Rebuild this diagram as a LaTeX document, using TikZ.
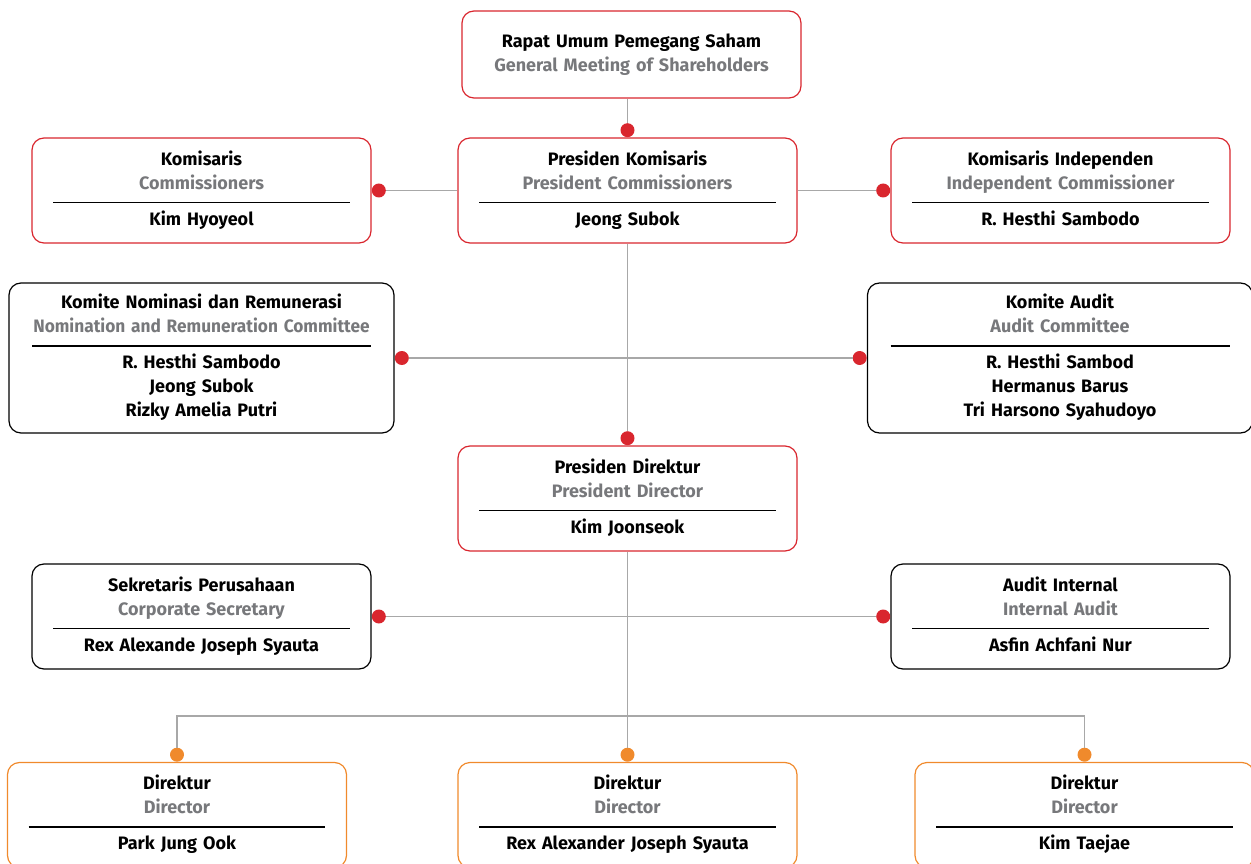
\documentclass[tikz,border=0pt]{standalone}
\usepackage{fontspec}
\setmainfont{Fira Sans}
\usepackage{tikz}
\usetikzlibrary{positioning}

\definecolor{boardred}{HTML}{D9262E}
\definecolor{dirorange}{HTML}{F08A2C}
\definecolor{linkgray}{HTML}{A8A8A8}
\definecolor{engray}{HTML}{77787B}

\newcommand{\en}[1]{\textcolor{engray}{#1}}
\newcommand{\seprule}[1]{\\[-10pt]\rule{#1}{1.5pt}\\[-2pt]}

\begin{document}
\begin{tikzpicture}[x=1pt,y=-1pt,
	orgbox/.style={draw=#1, line width=1.2pt, rounded corners=12pt, align=center,
		text width=297pt, inner xsep=21pt, minimum height=105pt,
		font=\fontsize{18}{24}\selectfont\bfseries},
	widebox/.style={orgbox=#1, text width=343pt, minimum height=150pt},
	dot/.style={circle, fill=#1, inner sep=0pt, minimum size=14pt},
	link/.style={draw=linkgray, line width=1.2pt}]
	\useasboundingbox (0,0) rectangle (1251,864);

	% boards
	\node[orgbox=boardred, minimum height=87pt] (rups) at (631.5,54.5)
		{\strut Rapat Umum Pemegang Saham\\ \en{General Meeting of Shareholders}\strut};
	\node[orgbox=boardred] (preskom) at (627.5,190.5)
		{\strut Presiden Komisaris\\ \en{President Commissioners}\seprule{297pt}Jeong Subok\strut};
	\node[orgbox=boardred] (komisaris) at (201.5,190.5)
		{\strut Komisaris\\ \en{Commissioners}\seprule{297pt}Kim Hyoyeol\strut};
	\node[orgbox=boardred] (komind) at (1060.5,190.5)
		{\strut Komisaris Independen\\ \en{Independent Commissioner}\seprule{297pt}R. Hesthi Sambodo\strut};

	% committees
	\node[widebox=black] (nomrem) at (201.5,358)
		{\strut Komite Nominasi dan Remunerasi\\ \en{\scalebox{0.96}[1]{Nomination and Remuneration Committee}}\seprule{339pt}R. Hesthi Sambodo\\ Jeong Subok\\ Rizky Amelia Putri\strut};
	\node[widebox=black] (audit) at (1060,358)
		{\strut Komite Audit\\ \en{Audit Committee}\seprule{339pt}R. Hesthi Sambod\\ Hermanus Barus\\ Tri Harsono Syahudoyo\strut};

	% directors
	\node[orgbox=boardred] (presdir) at (627.5,498.5)
		{\strut Presiden Direktur\\ \en{President Director}\seprule{297pt}Kim Joonseok\strut};
	\node[orgbox=black] (corsec) at (201.5,616.5)
		{\strut Sekretaris Perusahaan\\ \en{Corporate Secretary}\seprule{297pt}Rex Alexande Joseph Syauta\strut};
	\node[orgbox=black] (intaudit) at (1060.5,616.5)
		{\strut Audit Internal\\ \en{Internal Audit}\seprule{297pt}Asfin Achfani Nur\strut};
	\node[orgbox=dirorange] (dirA) at (177,815)
		{\strut Direktur\\ \en{Director}\seprule{297pt}Park Jung Ook\strut};
	\node[orgbox=dirorange] (dirB) at (627.5,815)
		{\strut Direktur\\ \en{Director}\seprule{297pt}Rex Alexander Joseph Syauta\strut};
	\node[orgbox=dirorange] (dirC) at (1084.5,815)
		{\strut Direktur\\ \en{Director}\seprule{297pt}Kim Taejae\strut};

	% dots
	\node[dot=boardred, anchor=south] (dpreskom) at (preskom.north) {};
	\node[dot=boardred, anchor=west] (dkomisaris) at (komisaris.east) {};
	\node[dot=boardred, anchor=east] (dkomind) at (komind.west) {};
	\node[dot=boardred, anchor=west] (dnomrem) at (nomrem.east) {};
	\node[dot=boardred, anchor=east] (daudit) at (audit.west) {};
	\node[dot=boardred, anchor=south] (dpresdir) at (presdir.north) {};
	\node[dot=boardred, anchor=west] (dcorsec) at (corsec.east) {};
	\node[dot=boardred, anchor=east] (dintaudit) at (intaudit.west) {};
	\node[dot=dirorange, anchor=south] (ddirA) at (dirA.north) {};
	\node[dot=dirorange, anchor=south] (ddirB) at (dirB.north) {};
	\node[dot=dirorange, anchor=south] (ddirC) at (dirC.north) {};
	\coordinate (bus) at (627.5,716);

	% links
	\path[link] (dpreskom) -- (dpreskom |- rups.south);
	\path[link] (dkomisaris) -- (preskom);
	\path[link] (preskom) -- (dkomind);
	\path[link] (preskom) -- (dpresdir);
	\path[link] (dnomrem) -- (daudit);
	\path[link] (presdir) -- (ddirB);
	\path[link] (dcorsec) -- (dintaudit);
	\path[link] (ddirA) |- (bus) -| (ddirC);
\end{tikzpicture}
\end{document}
